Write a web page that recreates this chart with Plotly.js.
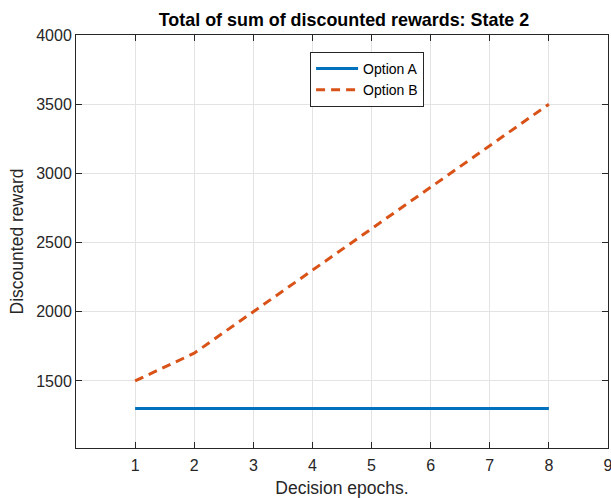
<!DOCTYPE html>
<html>
<head>
<meta charset="utf-8">
<script src="https://cdn.plot.ly/plotly-3.0.1.min.js"></script>
<style>html,body{margin:0;padding:0;background:#fff;}#chart{width:611px;height:498px;}</style>
</head>
<body>
<div id="chart"></div>
<script>
const epochs = [1, 2, 3, 4, 5, 6, 7, 8];
const optionA = [1300, 1300, 1300, 1300, 1300, 1300, 1300, 1300];
const optionB = [1500, 1700, 2000, 2300, 2600, 2900, 3200, 3500];
const xTicks = [1, 2, 3, 4, 5, 6, 7, 8, 9];
const yTicks = [1500, 2000, 2500, 3000, 3500, 4000];

const fontFam = 'Arial, "Liberation Sans", Helvetica, sans-serif';
const traces = [
  {x: epochs, y: optionA, mode: 'lines', name: 'Option A',
   line: {color: '#0072BD', width: 3}},
  {x: epochs, y: optionB, mode: 'lines', name: 'Option B',
   line: {color: '#D95319', width: 3, dash: '9px,6px'}}
];
const axisCommon = {
  showline: true, linecolor: '#262626', linewidth: 1, mirror: 'ticks',
  ticks: 'inside', ticklen: 6, tickcolor: '#262626', tickwidth: 1,
  showgrid: true, gridcolor: '#e3e3e3', gridwidth: 1, zeroline: false,
  ticklabeloverflow: 'allow',
  tickfont: {family: fontFam, size: 16, color: '#262626'}
};
const layout = {
  width: 611, height: 498,
  margin: {l: 76, r: 3, t: 35, b: 50},
  paper_bgcolor: '#fff', plot_bgcolor: '#fff',
  title: {text: '<b>Total of sum of discounted rewards: State 2</b>',
          font: {family: fontFam, size: 17.9, color: '#000'},
          x: 344 / 611, xref: 'container', xanchor: 'center',
          y: 1 - 20 / 498, yref: 'container', yanchor: 'middle'},
  xaxis: Object.assign({}, axisCommon, {
    range: [0, 9], tickvals: xTicks, ticklabelstandoff: 3,
    title: {text: 'Decision epochs.', font: {family: fontFam, size: 17.5, color: '#262626'}, standoff: 11}
  }),
  yaxis: Object.assign({}, axisCommon, {
    range: [1015, 4000], tickvals: yTicks,
    title: {text: 'Discounted reward', font: {family: fontFam, size: 17.5, color: '#262626'}, standoff: 8}
  }),
  legend: {x: 0.44, y: 0.959, xanchor: 'left', yanchor: 'top',
           bgcolor: '#fff', bordercolor: '#262626', borderwidth: 1,
           font: {family: fontFam, size: 14, color: '#000'},
           itemwidth: 42, tracegroupgap: 0},
  showlegend: true
};
Plotly.newPlot('chart', traces, layout, {displayModeBar: false, staticPlot: true});
</script>
</body>
</html>
